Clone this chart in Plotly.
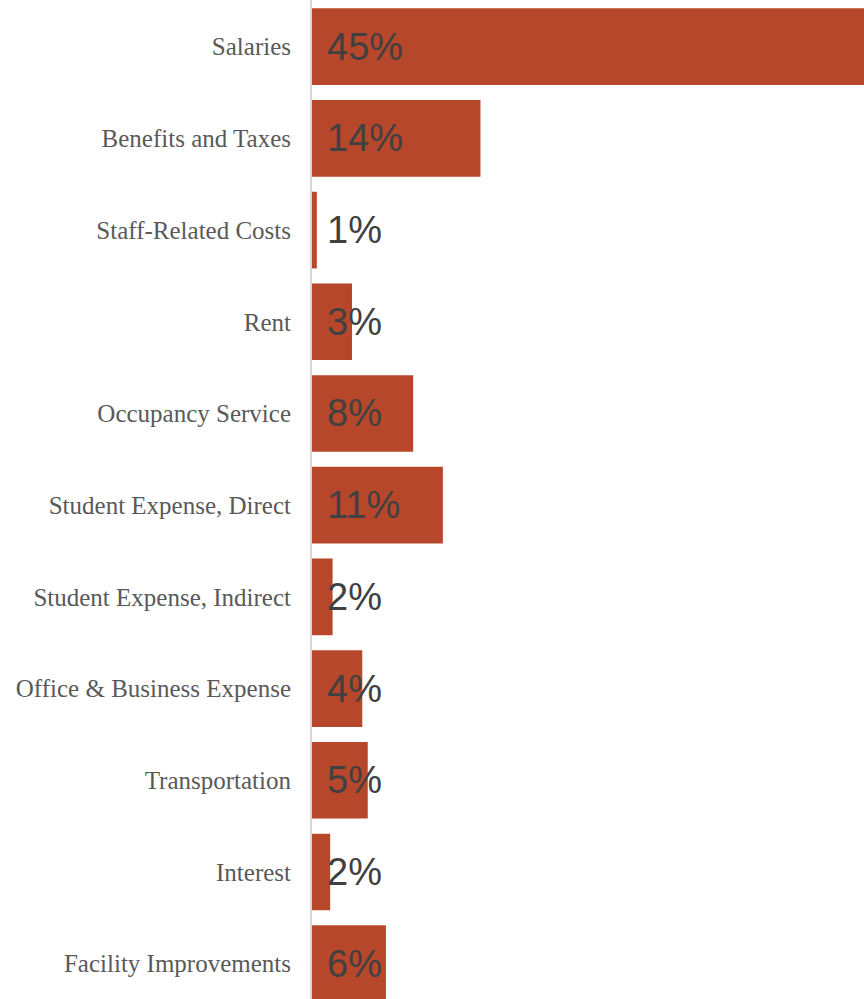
import plotly.graph_objects as go

categories = [
    "Salaries",
    "Benefits and Taxes",
    "Staff-Related Costs",
    "Rent",
    "Occupancy Service",
    "Student Expense, Direct",
    "Student Expense, Indirect",
    "Office & Business Expense",
    "Transportation",
    "Interest",
    "Facility Improvements",
]
values = [45.8, 13.9, 0.4, 3.3, 8.35, 10.8, 1.7, 4.15, 4.6, 1.5, 6.1]
labels = ["45%", "14%", "1%", "3%", "8%", "11%", "2%", "4%", "5%", "2%", "6%"]

BAR_COLOR = "#B7472A"
TEXT_COLOR = "#404040"
TICK_COLOR = "#595959"

fig = go.Figure()
fig.add_trace(go.Bar(
    x=values,
    y=categories,
    orientation="h",
    marker=dict(color=BAR_COLOR, line=dict(width=0)),
    hoverinfo="skip",
))

for cat, lab in zip(categories, labels):
    fig.add_annotation(
        x=0, y=cat, xref="x", yref="y",
        text=lab, showarrow=False,
        xanchor="left", yanchor="middle", xshift=13,
        font=dict(family="Liberation Sans, Arial, sans-serif", size=38, color=TEXT_COLOR),
    )

fig.update_layout(
    width=864,
    height=999,
    margin=dict(l=312, r=0, t=0, b=0),
    paper_bgcolor="white",
    plot_bgcolor="white",
    bargap=0.164,
    showlegend=False,
)
fig.update_xaxes(
    range=[0, 45.55],
    showgrid=False, zeroline=False, showline=False,
    showticklabels=False, ticks="",
)
fig.update_yaxes(
    type="category",
    categoryorder="array",
    categoryarray=categories,
    range=[10.385, -0.509],
    showgrid=False, zeroline=False,
    showline=True, linecolor="#D9D9D9", linewidth=2,
    layer="below traces",
    ticks="",
    ticklabelstandoff=14,
    tickfont=dict(family="Liberation Serif, Times New Roman, serif", size=25, color=TICK_COLOR),
)

fig.write_html("out.html")
